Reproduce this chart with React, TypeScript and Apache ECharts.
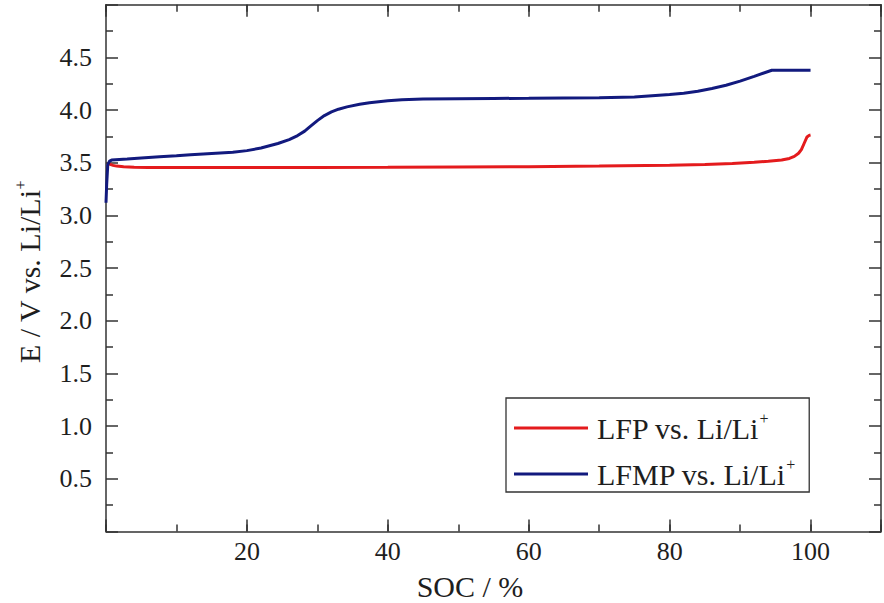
import React, { useEffect, useRef } from "react";
import * as echarts from "echarts";

// SOC (%) and potential (V)
const socLFP = [0.2, 0.6, 1, 1.5, 2.5, 4, 6, 10, 20, 30, 40, 50, 60, 70, 80, 85, 88.9, 92, 94, 95.9, 97, 97.7, 98.3, 98.7, 99.1, 99.5, 99.8, 100];
const eLFP = [3.5, 3.485, 3.475, 3.468, 3.462, 3.458, 3.456, 3.455, 3.455, 3.456, 3.457, 3.46, 3.463, 3.468, 3.476, 3.483, 3.493, 3.504, 3.514, 3.526, 3.541, 3.56, 3.59, 3.625, 3.685, 3.745, 3.76, 3.763];

const socLFMP = [0, 0.1, 0.25, 0.5, 0.8, 3, 5, 7.6, 10, 12, 15, 18, 20, 22, 24.4, 26, 27.2, 28.2, 29, 30, 31, 32, 33, 34.2, 36, 37.4, 40, 42, 45, 50, 55, 60, 65, 70, 75, 80, 82, 84, 86, 88, 90, 92, 94.5, 97, 100];
const eLFMP = [3.12, 3.3, 3.48, 3.515, 3.525, 3.535, 3.545, 3.556, 3.566, 3.575, 3.588, 3.6, 3.615, 3.64, 3.683, 3.72, 3.758, 3.8, 3.845, 3.9, 3.948, 3.982, 4.008, 4.03, 4.055, 4.07, 4.088, 4.098, 4.105, 4.108, 4.11, 4.112, 4.115, 4.118, 4.125, 4.148, 4.16, 4.178, 4.205, 4.235, 4.275, 4.32, 4.378, 4.378, 4.378];

const seriesNames = ["LFP vs. Li/Li+", "LFMP vs. Li/Li+"];
const seriesColors = ["#e41b1d", "#121a7e"];
const xTitle = "SOC / %";
const yTitle = "E / V vs. Li/Li";

const FONT = "Liberation Serif";
const AX = "#333333";
const TXT = "#1e1e1e";

export default function App() {
  const ref = useRef<HTMLDivElement>(null);
  useEffect(() => {
    if (!ref.current) return;
    const chart = echarts.init(ref.current, undefined, { renderer: "svg" });
    const grid = { left: 106, top: 4.7, width: 785, height: 526.8 };
    const lineStyle = { color: AX, width: 1.5 };
    const baseX = {
      type: "value" as const,
      min: 0,
      max: 110,
      gridIndex: 0,
      splitLine: { show: false },
      axisLine: { show: true, onZero: false, lineStyle },
    };
    const xMajorLabels = (v: number) => (v > 0 && v <= 100 ? String(v) : "");
    const option: any = {
      animation: false,
      textStyle: { fontFamily: FONT },
      grid,
      xAxis: [
        {
          ...baseX,
          position: "bottom",
          interval: 20,
          axisTick: { show: true, inside: true, length: 12, lineStyle },
          axisLabel: { show: true, formatter: xMajorLabels, fontSize: 26, color: TXT, margin: 7, fontFamily: FONT },
        },
        {
          ...baseX,
          position: "bottom",
          interval: 10,
          axisLine: { show: false, onZero: false },
          axisTick: { show: true, inside: true, length: 7, lineStyle },
          axisLabel: { show: false },
        },
        {
          ...baseX,
          position: "top",
          interval: 20,
          axisTick: { show: true, inside: true, length: 12, lineStyle },
          axisLabel: { show: false },
        },
        {
          ...baseX,
          position: "top",
          interval: 10,
          axisLine: { show: false, onZero: false },
          axisTick: { show: true, inside: true, length: 7, lineStyle },
          axisLabel: { show: false },
        },
      ],
      yAxis: [
        {
          type: "value",
          min: 0,
          max: 5,
          interval: 0.5,
          position: "left",
          splitLine: { show: false },
          axisLine: { show: true, onZero: false, lineStyle },
          axisTick: { show: true, inside: true, length: 12, lineStyle },
          minorTick: { show: true, splitNumber: 2, length: 7, lineStyle },
          axisLabel: {
            show: true,
            formatter: (v: number) => (v > 0 && v < 5 ? v.toFixed(1) : ""),
            fontSize: 26,
            color: TXT,
            margin: 14,
            fontFamily: FONT,
          },
        },
        {
          type: "value",
          min: 0,
          max: 5,
          interval: 0.5,
          position: "right",
          splitLine: { show: false },
          axisLine: { show: true, onZero: false, lineStyle },
          axisTick: { show: true, inside: true, length: 12, lineStyle },
          minorTick: { show: true, splitNumber: 2, length: 7, lineStyle },
          axisLabel: { show: false },
        },
      ],
      legend: {
        orient: "vertical",
        left: 506,
        top: 398,
        padding: [12, 14, 3, 8],
        itemGap: 13,
        itemWidth: 74,
        itemHeight: 3,
        icon: "rect",
        borderColor: AX,
        borderWidth: 1.3,
        borderRadius: 0,
        data: seriesNames,
        formatter: (name: string) => `{a|${name.replace("+", "")}}{s|+}`,
        textStyle: {
          fontFamily: FONT,
          fontSize: 30,
          color: TXT,
          padding: [0, 0, 0, 4],
          rich: {
            a: { fontFamily: FONT, fontSize: 30, color: TXT, lineHeight: 36 },
            s: { fontFamily: FONT, fontSize: 16, color: TXT, verticalAlign: "top", lineHeight: 16 },
          },
        },
      },
      graphic: [
        {
          type: "text",
          x: 470,
          y: 586,
          style: { text: xTitle, font: `30px ${FONT}`, fill: TXT, align: "center", verticalAlign: "middle" },
        },
        {
          type: "text",
          x: 29,
          y: 272,
          rotation: Math.PI / 2,
          style: {
            text: `{a|${yTitle}}{s|+}`,
            align: "center",
            verticalAlign: "middle",
            fill: TXT,
            rich: {
              a: { fontFamily: FONT, fontSize: 30, fill: TXT, lineHeight: 34 },
              s: { fontFamily: FONT, fontSize: 16, fill: TXT, verticalAlign: "top", lineHeight: 16 },
            },
          },
        },
      ],
      series: [
        {
          name: seriesNames[0],
          type: "line",
          xAxisIndex: 0,
          yAxisIndex: 0,
          symbol: "none",
          showSymbol: false,
          data: socLFP.map((x, i) => [x, eLFP[i]]),
          lineStyle: { color: seriesColors[0], width: 3 },
          itemStyle: { color: seriesColors[0] },
        },
        {
          name: seriesNames[1],
          type: "line",
          xAxisIndex: 0,
          yAxisIndex: 0,
          symbol: "none",
          showSymbol: false,
          data: socLFMP.map((x, i) => [x, eLFMP[i]]),
          lineStyle: { color: seriesColors[1], width: 3 },
          itemStyle: { color: seriesColors[1] },
        },
      ],
    };
    chart.setOption(option);
    return () => chart.dispose();
  }, []);
  return (
    <div style={{ position: "fixed", left: 0, top: 0, width: 884, height: 603, overflow: "hidden", background: "#fff" }}>
      <div ref={ref} style={{ width: 884, height: 603 }} />
    </div>
  );
}
